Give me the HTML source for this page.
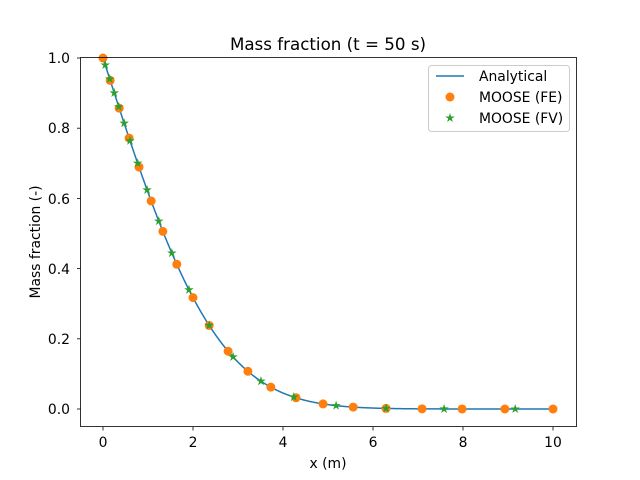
<!DOCTYPE html>
<html><head><meta charset="utf-8"><style>body{margin:0;background:#fff}svg{display:block}text{font-family:"DejaVu Sans","Liberation Sans",sans-serif;fill:#000}</style></head>
<body>
<svg id="s" width="640" height="480" xmlns="http://www.w3.org/2000/svg">
<rect width="640" height="480" fill="#fff"/>
<g id="plot"></g>
<rect x="80.5" y="57.5" width="496" height="369" fill="none" stroke="#000" stroke-width="0.8"/>
<g font-size="13.9" text-anchor="middle">
<text x="103" y="447">0</text><text x="193" y="447">2</text><text x="283" y="447">4</text><text x="373" y="447">6</text><text x="463" y="447">8</text><text x="553" y="447">10</text>
</g>
<g font-size="13.9" text-anchor="end">
<text x="70" y="414">0.0</text><text x="70" y="344">0.2</text><text x="70" y="274">0.4</text><text x="70" y="204">0.6</text><text x="70" y="133">0.8</text><text x="70" y="63">1.0</text>
</g>
<g stroke="#000" stroke-width="0.8" id="ticks"></g>
<text x="328" y="468" font-size="13.9" text-anchor="middle">x (m)</text>
<text transform="translate(40,242) rotate(-90)" font-size="13.9" text-anchor="middle">Mass fraction (-)</text>
<text x="328" y="50" font-size="16.7" text-anchor="middle">Mass fraction (t = 50 s)</text>
<rect x="428.5" y="65.5" width="141" height="66" rx="3" fill="#fff" fill-opacity="0.8" stroke="#ccc"/>
<line x1="436" y1="76" x2="464" y2="76" stroke="#1f77b4" stroke-width="1.5"/>
<circle cx="450" cy="97" r="4.5" fill="#ff7f0e"/>
<polygon id="lstar" fill="#2ca02c"/>
<g font-size="13.9"><text x="479" y="81">Analytical</text><text x="479" y="102">MOOSE (FE)</text><text x="479" y="123">MOOSE (FV)</text></g>
</svg>
<script>
function erfc(x){var t=1/(1+0.3275911*x);var y=t*(0.254829592+t*(-0.284496736+t*(1.421413741+t*(-1.453152027+t*1.061405429))));return y*Math.exp(-x*x);}
function f(x){return erfc(x/(2*Math.SQRT2));}
function X(x){return 103+45*x;}function Y(y){return 409-351*y;}
var g=document.getElementById('plot'),h='';
var p='';for(var i=0;i<=400;i++){var x=i/40;p+=(i?'L':'M')+X(x).toFixed(2)+' '+Y(f(x)).toFixed(2);}
h+='<path d="'+p+'" fill="none" stroke="#1f77b4" stroke-width="1.5"/>';
var fe=[0,0.16,0.36,0.58,0.8,1.07,1.33,1.64,2.0,2.36,2.78,3.22,3.73,4.29,4.89,5.56,6.29,7.09,7.98,8.93,10];
fe.forEach(function(x){h+='<circle cx="'+X(x)+'" cy="'+Y(f(x))+'" r="4.5" fill="#ff7f0e"/>';});
function star(cx,cy,r){var s='';for(var k=0;k<10;k++){var a=-Math.PI/2+k*Math.PI/5,rr=k%2?r*0.38:r;s+=(cx+rr*Math.cos(a)).toFixed(2)+','+(cy+rr*Math.sin(a)).toFixed(2)+' ';}return s;}
var fv=[0.05,0.15,0.25,0.35,0.47,0.6,0.77,0.98,1.24,1.53,1.91,2.36,2.89,3.51,4.24,5.18,6.29,7.58,9.16];
fv.forEach(function(x){h+='<polygon points="'+star(X(x),Y(f(x)),5)+'" fill="#2ca02c"/>';});
g.innerHTML=h;
document.getElementById('lstar').setAttribute('points',star(450,118,5));
var t='';[0,2,4,6,8,10].forEach(function(v){t+='<line x1="'+X(v)+'" y1="427" x2="'+X(v)+'" y2="430.5"/>';});
[0,0.2,0.4,0.6,0.8,1].forEach(function(v){t+='<line x1="77" y1="'+Y(v)+'" x2="80.5" y2="'+Y(v)+'"/>';});
document.getElementById('ticks').innerHTML=t;
</script>
</body></html>
